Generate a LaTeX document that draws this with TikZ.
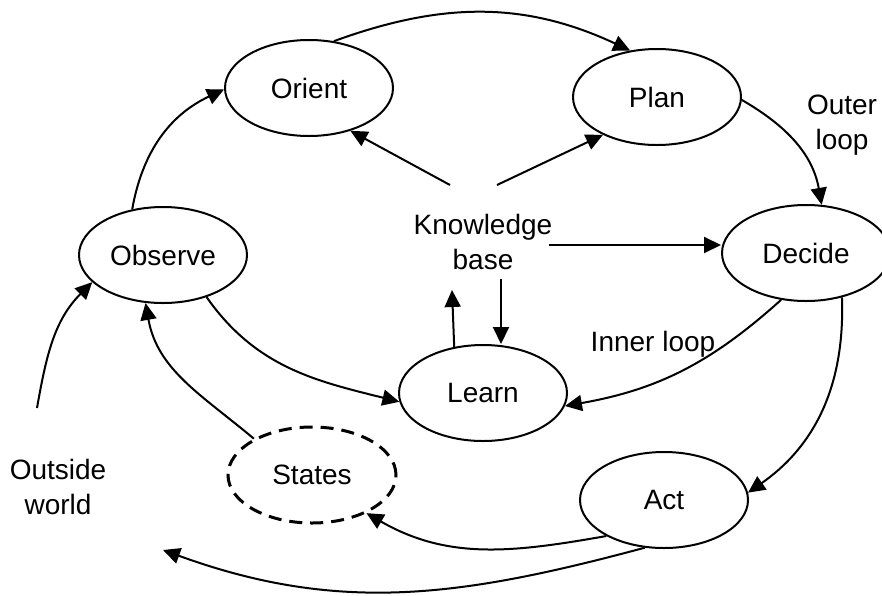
\documentclass[tikz,border=0pt]{standalone}
\usepackage{fontspec}
\setmainfont{Liberation Sans}
\usetikzlibrary{shapes.geometric,arrows.meta}

\begin{document}
\begin{tikzpicture}[x=0.5pt, y=-0.5pt, line width=1pt,
    >={Triangle[length=8.5pt,width=8pt]},
    every node/.style = {font=\fontsize{14}{17.5}\selectfont, align=center},
    phase/.style = {ellipse, draw, minimum width=84pt, minimum height=48pt, inner sep=0pt}
    ]
    \useasboundingbox (0,0) rectangle (882,595);

    \node[phase] (ori) at (309,88) {Orient};
    \node[phase] (plan) at (657,97) {Plan};
    \node[phase] (dec) at (806,253) {Decide};
    \node[phase] (obs) at (163,255) {Observe};
    \node[phase] (learn) at (483,393) {Learn};
    \node[phase] (act) at (664,500) {Act};
    \node[phase, line width=1.5pt, dash pattern=on 6.5pt off 4pt] (st) at (312,475) {States};

    \node (kb) at (483,242) {Knowledge\\base};
    \node (outer) at (842,125) {Outer\\loop};
    \node (inner) at (653,344) {Inner loop};
    \node (ow) at (58,487) {Outside\\world};
    \coordinate (win) at (37,408);
    \coordinate (wout) at (163,550);

    \draw[->] (ori.62) to[out=20, in=155] (plan.120);
    \draw[->] (plan.-2) to[out=-30, in=100] (dec.72);
    \draw[->] (dec.-51) to[out=-88, in=35] (act.5);
    \draw[->] (dec.-118) to[out=-138, in=10] (learn.-9);
    \draw[->] (act.212) to[out=190, in=-30] (st.-35);
    \draw[->] (act.-112) to[out=195, in=-20] (wout);
    \draw[->] (win) to[out=80, in=225] (obs.201);
    \draw[->] (st.148) to[out=140, in=-80] (obs.-110);
    \draw[->] (obs.-44) to[out=-55, in=166] (learn.186);
    \draw[->] (obs.124) to[out=80, in=205] (ori.181);

    \draw[->] ([shift={(-33,-57)}]kb.center) -- (ori.-46);
    \draw[->] ([shift={(14,-57)}]kb.center) -- (plan.215);
    \draw[->] ([shift={(66,3)}]kb.center) coordinate (k3) -- (k3 -| dec.west);
    \draw[->] ([shift={(18,37)}]kb.center) coordinate (k4) -- (k4 |- learn.north);
    \draw[->] (learn.122) -- ([shift={(-31,48)}]kb.center);
    \end{tikzpicture}
\end{document}
